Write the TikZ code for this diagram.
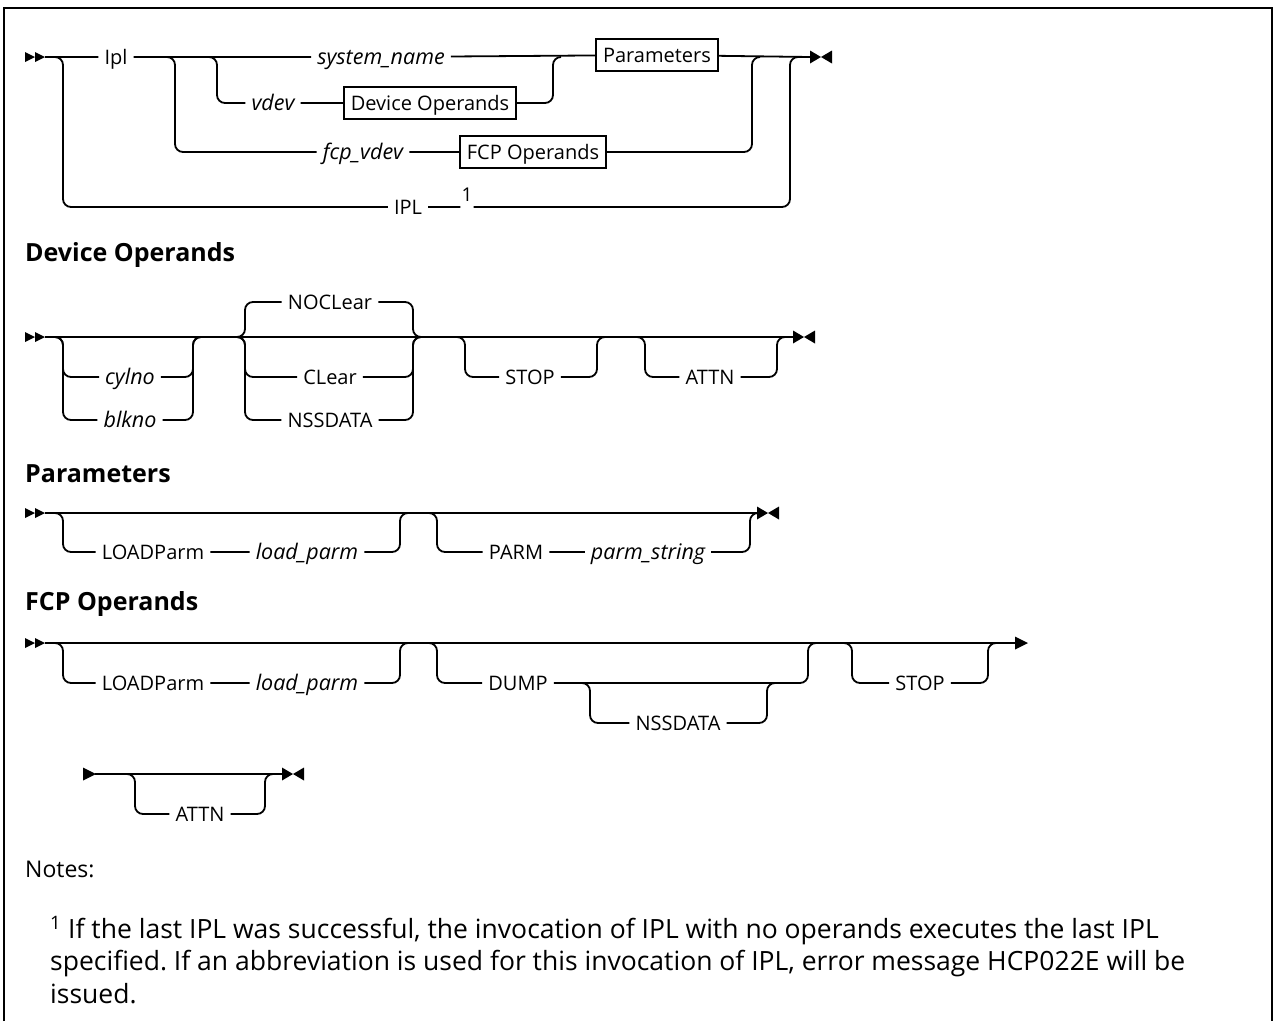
\documentclass[tikz,border=0pt]{standalone}
\usepackage{fontspec}
\setmainfont{Open Sans}
\usetikzlibrary{calc}
\frenchspacing

\begin{document}
\begin{tikzpicture}[
    x=1pt, y=-1pt,
    rail/.style={line width=1.8pt, rounded corners=8pt},
    kw/.style={font=\fontsize{20pt}{24pt}\selectfont, inner xsep=6pt, inner ysep=0pt,
      text height=14pt, text depth=0pt},
    var/.style={kw, font=\fontsize{21.5pt}{24pt}\selectfont\itshape},
    refbox/.style={draw, line width=1.6pt, font=\fontsize{20pt}{24pt}\selectfont,
      minimum height=32pt, inner xsep=7pt, inner ysep=0pt, text height=14pt, text depth=0pt},
    fnmark/.style={font=\fontsize{19pt}{22pt}\selectfont, inner xsep=1pt, inner ysep=0pt,
      text height=14pt, text depth=0pt},
    heading/.style={anchor=west, inner sep=0pt, font=\fontsize{25pt}{28pt}\selectfont\bfseries},
    railbegin/.pic={\fill (-20,-5) -- (-10,0) -- (-20,5) -- cycle (-10,-5) -- (0,0) -- (-10,5) -- cycle;},
    railend/.pic={\fill (0,-6.5) -- (11,0) -- (0,6.5) -- cycle (22,-6.5) -- (11,0) -- (22,6.5) -- cycle;},
    railcont/.pic={\fill (0,-6.5) -- (13,0) -- (0,6.5) -- cycle;}
  ]
  \useasboundingbox (0,0) rectangle (1274,1021);
  \draw[line width=2.2pt] (4,1021) -- (4,8) -- (1272,8) -- (1272,1021);

  % main diagram
  \coordinate (s1) at (45,57);
  \coordinate (e1) at (810,57);
  \coordinate (b1) at (63,57);
  \coordinate (b2) at (175,57);
  \coordinate (b3) at (217,57);
  \coordinate (r1) at (553,57);
  \coordinate (r2) at (752,57);
  \coordinate (r3) at (790,57);
  \node[kw] (ipl) at (116,57) {Ipl};
  \node[var] (sysname) at (381,57) {system\_name};
  \node[refbox] (params) at (657,55) {Parameters};
  \node[var] (vdev) at (273,103) {vdev};
  \node[refbox] (devops) at (430,103) {Device Operands};
  \node[var] (fcpvdev) at (363,152) {fcp\_vdev};
  \node[refbox] (fcpops) at (533,152) {FCP Operands};
  \node[kw] (iplup) at (408,207) {IPL};
  \node[fnmark] (fn1) at (467,207) {\raisebox{13pt}{1}};
  \pic at (s1) {railbegin};
  \pic at (e1) {railend};
  \draw[rail] (s1) -- (ipl) -- (sysname) -- (params) -- (e1);
  \draw[rail] ([xshift=-8pt]b3) -| (b3 |- vdev) -- (vdev) -- (devops)
    -- (r1 |- devops) |- ([xshift=8pt]r1);
  \draw[rail] ([xshift=-8pt]b2) -| (b2 |- fcpvdev) -- (fcpvdev) -- (fcpops)
    -- (r2 |- fcpops) |- ([xshift=8pt]r2);
  \draw[rail] ([xshift=-8pt]b1) -| (b1 |- iplup) -- (iplup) -- (fn1)
    -- (r3 |- fn1) |- ([xshift=8pt]r3);

  % Device Operands
  \node[heading] (hdev) at (25,255) {Device Operands};
  \coordinate (s2) at (45,337);
  \coordinate (e2) at (793,337);
  \coordinate (c1) at (63,337);
  \coordinate (c2) at (193,337);
  \coordinate (g1) at (245,337);
  \coordinate (g2) at (413,337);
  \coordinate (c3) at (465,337);
  \coordinate (c4) at (597,337);
  \coordinate (c5) at (645,337);
  \coordinate (c6) at (777,337);
  \node[var] (cylno) at (130,377) {cylno};
  \node[var] (blkno) at (130,420) {blkno};
  \node[kw] (noclear) at (330,302) {NOCLear};
  \node[kw] (clear) at (330,377) {CLear};
  \node[kw] (nssdev) at (330,420) {NSSDATA};
  \node[kw] (stopdev) at (530,377) {STOP};
  \node[kw] (attndev) at (710,377) {ATTN};
  \pic at (s2) {railbegin};
  \pic at (e2) {railend};
  \draw[rail] (s2) -- (e2);
  \foreach \opt in {cylno, blkno}
    \draw[rail] ([xshift=-8pt]c1) -| (c1 |- \opt) -- (\opt) -- (c2 |- \opt) |- ([xshift=8pt]c2);
  \foreach \opt in {noclear, clear, nssdev}
    \draw[rail] ([xshift=-8pt]g1) -| (g1 |- \opt) -- (\opt) -- (g2 |- \opt) |- ([xshift=8pt]g2);
  \draw[rail] ([xshift=-8pt]c3) -| (c3 |- stopdev) -- (stopdev) -- (c4 |- stopdev) |- ([xshift=8pt]c4);
  \draw[rail] ([xshift=-8pt]c5) -| (c5 |- attndev) -- (attndev) -- (c6 |- attndev) |- ([xshift=8pt]c6);

  % Parameters
  \node[heading] (hparm) at (25,474) {Parameters};
  \coordinate (s3) at (45,513);
  \coordinate (e3) at (757,513);
  \coordinate (p1) at (63,513);
  \coordinate (p2) at (400,513);
  \coordinate (p3) at (437,513);
  \coordinate (p4) at (750,513);
  \node[kw] (ldparm) at (153,552) {LOADParm};
  \node[var] (ldval) at (307,552) {load\_parm};
  \node[kw] (parmkw) at (516,552) {PARM};
  \node[var] (parmval) at (648,552) {parm\_string};
  \pic at (s3) {railbegin};
  \pic at (e3) {railend};
  \draw[rail] (s3) -- (e3);
  \draw[rail] ([xshift=-8pt]p1) -| (p1 |- ldparm) -- (ldparm) -- (ldval)
    -- (p2 |- ldval) |- ([xshift=8pt]p2);
  \draw[rail] ([xshift=-8pt]p3) -| (p3 |- parmkw) -- (parmkw) -- (parmval)
    -- (p4 |- parmval) |- ([xshift=8pt]p4);

  % FCP Operands
  \node[heading] (hfcp) at (25,604) {FCP Operands};
  \coordinate (s4) at (45,643);
  \coordinate (e4) at (1015,643);
  \coordinate (f1) at (63,643);
  \coordinate (f2) at (400,643);
  \coordinate (f3) at (437,643);
  \coordinate (f4) at (808,643);
  \coordinate (f5) at (852,643);
  \coordinate (f6) at (988,643);
  \node[kw] (ldfcp) at (153,683) {LOADParm};
  \node[var] (ldfcpval) at (307,683) {load\_parm};
  \node[kw] (dump) at (518,683) {DUMP};
  \coordinate (n1) at (590,683);
  \coordinate (n2) at (767,683);
  \node[kw] (nssfcp) at (678,723) {NSSDATA};
  \node[kw] (stopfcp) at (920,683) {STOP};
  \pic at (s4) {railbegin};
  \pic at (e4) {railcont};
  \draw[rail] (s4) -- (e4);
  \draw[rail] ([xshift=-8pt]f1) -| (f1 |- ldfcp) -- (ldfcp) -- (ldfcpval)
    -- (f2 |- ldfcpval) |- ([xshift=8pt]f2);
  \draw[rail] ([xshift=-8pt]f3) -| (f3 |- dump) -- (dump) -- (f4 |- dump) |- ([xshift=8pt]f4);
  \draw[rail] ([xshift=-8pt]n1) -| (n1 |- nssfcp) -- (nssfcp) -- (n2 |- nssfcp) |- ([xshift=8pt]n2);
  \draw[rail] ([xshift=-8pt]f5) -| (f5 |- stopfcp) -- (stopfcp) -- (f6 |- stopfcp) |- ([xshift=8pt]f6);

  \coordinate (s5) at (83,774);
  \coordinate (e5) at (282,774);
  \coordinate (f7) at (135,774);
  \coordinate (f8) at (265,774);
  \node[kw] (attnfcp) at (200,814) {ATTN};
  \pic at (s5) {railcont};
  \draw[rail] ([xshift=12pt]s5) -- (e5);
  \pic at (e5) {railend};
  \draw[rail] ([xshift=-8pt]f7) -| (f7 |- attnfcp) -- (attnfcp) -- (f8 |- attnfcp) |- ([xshift=8pt]f8);

  % notes
  \node[anchor=west, inner sep=0pt, font=\fontsize{23pt}{26pt}\selectfont] (notes) at (25,869) {Notes:};
  \node[anchor=north west, inner sep=0pt, align=left,
    font=\fontsize{26.5pt}{32.5pt}\selectfont] (note1) at (50,916)
    {\textsuperscript{1} If the last IPL was successful, the invocation of IPL with no operands executes the last IPL\\
     specified. If an abbreviation is used for this invocation of IPL, error message HCP022E will be\\
     issued.};
\end{tikzpicture}
\end{document}
